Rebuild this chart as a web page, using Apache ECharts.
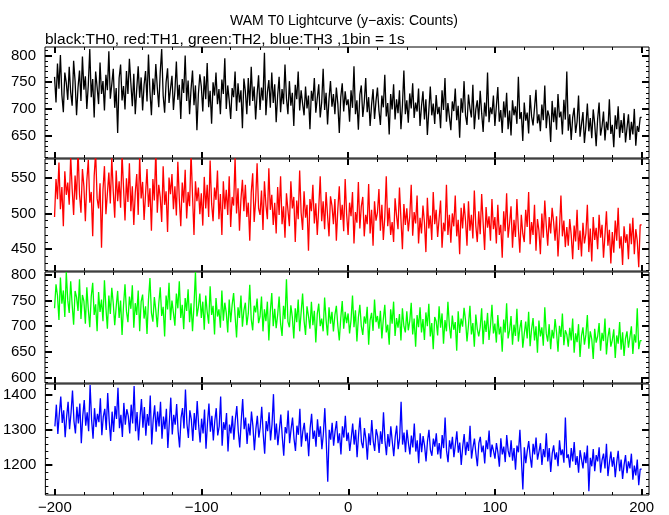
<!DOCTYPE html>
<html><head><meta charset="utf-8">
<script src="https://cdn.jsdelivr.net/npm/echarts@6/dist/echarts.min.js"></script>
<style>html,body{margin:0;padding:0;background:#fff}#c{width:669px;height:515px}</style>
</head><body><div id="c"></div>
<script>
// time of first bin (s), 1 bin = 1 s
const tStart = -200;
const xTickLabels = [-200, -100, 0, 100, 200];

const th0 = [
760,712,785,738,801,726,694,768,749,717,
779,731,706,790,752,688,740,772,715,798,
736,761,700,745,812,722,756,684,770,741,
709,787,728,752,697,764,735,808,719,746,
775,702,739,655,758,783,716,743,699,771,
728,794,748,705,766,690,737,780,721,759,
697,745,771,714,802,733,688,757,726,784,
740,703,768,812,725,693,750,776,711,738,
762,698,734,789,717,745,681,756,730,800,
715,753,690,737,772,707,744,660,728,765,
742,695,761,718,786,703,734,672,750,725,
768,709,737,690,755,728,795,700,744,716,
681,739,722,770,696,748,712,735,664,757,
733,690,758,706,779,715,742,680,727,763,
698,740,716,805,688,731,754,702,768,711,
746,675,725,760,694,737,709,783,720,690,
752,706,730,668,745,718,770,697,735,710,
688,742,701,725,662,734,715,758,693,720,
746,684,712,775,698,730,671,719,752,704,
728,690,740,710,655,722,748,695,733,707,
718,676,735,702,780,690,716,661,727,744,
685,712,758,694,722,668,708,737,681,715,
740,697,670,725,703,764,686,711,652,728,
699,746,680,718,692,735,662,706,772,690,
716,674,729,701,748,683,712,695,738,668,
705,733,680,718,651,697,742,688,710,672,
726,690,704,664,735,698,758,676,711,685,
660,714,696,738,679,706,646,720,693,752,
688,670,727,701,684,745,662,699,716,680,
734,692,657,712,686,768,675,703,690,725,
668,705,741,676,698,655,714,684,730,662,
697,650,716,688,705,672,760,681,694,640,
712,678,693,654,726,686,669,702,736,673,
690,658,708,679,744,664,697,686,638,715,
675,703,661,728,684,695,652,717,680,770,
659,690,642,684,702,655,676,725,648,671,
694,636,668,710,658,683,645,699,672,630,
681,712,650,667,695,641,676,660,718,653,
670,628,688,662,705,646,679,655,692,637,
664,690,642,676,652,700,631,668,657,684];

const th1 = [
495,548,520,571,506,537,482,559,526,543,
512,580,534,498,553,519,590,527,501,562,
538,489,546,575,515,530,468,552,585,521,
507,542,452,533,566,499,528,557,514,578,
531,494,560,517,545,508,583,536,490,549,
516,570,503,538,484,529,555,498,580,521,
544,491,527,562,509,535,476,548,518,590,
501,540,523,488,566,512,531,474,550,527,
555,506,538,497,572,520,482,543,515,561,
493,530,510,585,525,470,545,517,536,499,
528,483,551,507,540,495,574,514,489,536,
519,560,492,527,470,545,506,533,498,552,
481,523,511,578,500,535,476,520,547,503,
540,495,515,462,529,556,488,518,570,507,
498,532,477,545,512,492,563,505,526,484,
515,472,537,498,552,485,510,466,528,505,
482,545,507,523,460,518,492,560,501,477,
531,494,512,448,520,503,540,486,514,470,
508,552,489,517,478,530,497,468,524,511,
485,520,462,506,538,491,512,475,548,499,
470,515,496,530,458,502,487,544,479,510,
523,468,498,485,541,472,505,455,517,490,
501,534,476,512,463,495,552,482,508,470,
488,460,521,497,478,536,492,450,513,484,
507,475,496,540,469,502,486,525,458,494,
472,511,488,446,522,479,497,463,530,485,
505,467,493,518,452,487,475,540,470,498,
459,500,482,525,468,491,443,508,479,514,
490,455,517,476,498,465,532,483,460,503,
471,527,487,449,509,480,496,462,520,478,
495,458,512,470,484,438,503,475,528,466,
486,510,452,491,467,520,479,445,498,472,
460,505,481,530,457,488,470,512,448,492,
476,443,500,466,518,483,455,495,472,508,
488,462,496,440,479,525,468,490,453,481,
455,492,470,436,483,461,505,449,476,440,
487,458,472,512,446,479,433,495,463,480,
450,498,466,484,438,470,503,455,477,430,
474,445,490,462,508,451,468,428,482,459,
471,436,486,457,494,443,478,462,425,484];

const th2 = [
735,782,760,712,795,744,770,718,806,751,
726,788,742,703,769,757,730,792,714,761,
749,705,776,733,698,758,785,722,743,690,
767,728,752,710,790,736,695,760,724,775,
745,702,738,769,716,750,683,741,782,729,
708,758,734,780,697,745,722,770,690,748,
762,715,739,685,752,794,726,709,757,731,
698,744,776,720,738,680,760,733,785,712,
750,726,701,764,735,788,716,742,694,755,
730,772,708,745,690,740,806,719,737,764,
716,748,693,760,728,705,778,722,740,684,
755,719,733,697,770,711,746,726,688,752,
708,742,765,721,678,737,716,760,699,731,
746,702,725,781,714,692,740,727,754,706,
719,758,690,733,710,748,672,729,765,700,
734,696,722,758,705,681,740,714,792,709,
698,741,718,676,735,708,752,690,727,764,
711,683,739,720,695,748,702,730,668,724,
744,700,715,690,756,712,682,737,705,728,
690,722,740,701,672,716,749,695,728,706,
725,686,712,760,698,731,670,717,742,700,
683,719,705,738,664,712,726,691,752,708,
720,695,730,676,714,742,688,703,664,733,
705,748,681,716,697,724,672,735,700,688,
729,692,710,746,684,715,660,722,698,737,
688,714,673,727,700,744,680,706,655,718,
710,682,739,697,725,666,712,690,748,701,
676,721,693,708,652,729,687,715,699,736,
712,670,702,740,684,706,660,723,695,680,
698,735,665,711,689,726,673,701,742,686,
705,668,722,684,699,650,713,688,745,676,
692,720,664,703,681,734,670,696,712,658,
685,709,676,728,661,694,716,672,700,648,
711,680,698,662,737,686,670,704,655,693,
676,714,688,650,701,679,725,663,692,684,
660,697,672,715,648,686,669,704,640,681,
698,664,683,722,656,690,675,636,695,668,
680,706,652,687,671,715,645,678,697,660,
673,694,638,682,666,708,654,688,642,676,
690,658,679,700,646,684,668,735,655,672];

const th3 = [
1310,1372,1288,1345,1395,1320,1356,1279,1338,1380,
1302,1349,1412,1325,1290,1366,1318,1375,1262,1340,
1385,1312,1350,1296,1428,1330,1275,1362,1308,1346,
1322,1390,1285,1338,1360,1300,1405,1326,1268,1352,
1294,1368,1331,1420,1305,1343,1280,1377,1315,1359,
1340,1290,1372,1318,1425,1296,1351,1270,1334,1388,
1306,1365,1283,1345,1312,1398,1258,1329,1370,1295,
1352,1310,1380,1275,1338,1302,1360,1248,1321,1392,
1287,1343,1315,1374,1296,1250,1335,1362,1304,1415,
1318,1277,1356,1330,1268,1348,1300,1382,1312,1264,
1332,1290,1358,1246,1318,1375,1295,1340,1270,1326,
1362,1284,1310,1395,1255,1322,1300,1348,1238,1315,
1290,1340,1272,1330,1368,1296,1250,1325,1388,1302,
1335,1260,1318,1284,1352,1310,1242,1302,1340,1278,
1308,1366,1288,1232,1325,1296,1350,1270,1315,1402,
1272,1318,1256,1300,1344,1280,1226,1308,1290,1355,
1262,1302,1335,1275,1240,1312,1286,1360,1252,1296,
1320,1268,1292,1225,1305,1346,1274,1298,1252,1330,
1280,1310,1245,1288,1362,1266,1152,1300,1272,1320,
1255,1296,1325,1262,1290,1230,1310,1278,1340,1268,
1292,1240,1276,1318,1258,1300,1222,1286,1335,1265,
1248,1305,1274,1215,1290,1256,1328,1268,1240,1302,
1282,1234,1296,1260,1350,1270,1228,1288,1252,1310,
1266,1225,1280,1312,1245,1276,1380,1258,1292,1236,
1300,1262,1230,1284,1250,1318,1238,1270,1205,1290,
1236,1282,1255,1210,1268,1300,1242,1226,1275,1252,
1290,1230,1262,1218,1285,1248,1335,1240,1208,1270,
1245,1280,1222,1258,1296,1235,1264,1200,1252,1288,
1228,1266,1240,1312,1218,1250,1275,1232,1196,1262,
1280,1236,1255,1204,1270,1245,1298,1222,1258,1240,
1218,1262,1235,1195,1276,1230,1252,1208,1285,1240,
1222,1270,1212,1248,1186,1255,1236,1300,1216,1130,
1250,1205,1240,1268,1224,1192,1260,1230,1278,1215,
1238,1262,1200,1245,1222,1290,1210,1248,1180,1232,
1256,1215,1236,1196,1270,1228,1244,1206,1335,1220,
1230,1192,1248,1210,1265,1200,1225,1178,1242,1216,
1190,1236,1205,1255,1125,1220,1196,1245,1182,1228,
1210,1250,1178,1214,1232,1190,1260,1168,1206,1238,
1195,1222,1165,1208,1240,1182,1215,1160,1200,1228,
1176,1210,1190,1232,1158,1198,1170,1215,1142,1188];

// y-axis tick labels per panel
const yTicks0 = [650, 700, 750, 800];
const yTicks1 = [450, 500, 550];
const yTicks2 = [600, 650, 700, 750, 800];
const yTicks3 = [1200, 1300, 1400];

const titleText = 'WAM T0 Lightcurve (y\u2212axis: Counts)';
const subText = 'black:TH0, red:TH1, green:TH2, blue:TH3 ,1bin = 1s';

const panels = [
  {vals: th0, color: '#000000', ticks: yTicks0, minorStep: 10, min: 608, max: 816, top: 47, h: 111},
  {vals: th1, color: '#ff0000', ticks: yTicks1, minorStep: 10, min: 419.6, max: 576, top: 159, h: 112},
  {vals: th2, color: '#00ff00', ticks: yTicks2, minorStep: 10, min: 589, max: 806, top: 272, h: 111},
  {vals: th3, color: '#0000ff', ticks: yTicks3, minorStep: 20, min: 1114, max: 1431, top: 384, h: 112}
];

const XMIN = -206.5, XMAX = 205;
const xMinor = [];
for (let v = -200; v <= 200; v += 20) xMinor.push(v);

const FONT = 'Liberation Sans, Arial, Helvetica, sans-serif';
const grids = [], xAxes = [], yAxes = [], series = [];
const noLine = {show: false, onZero: false};

panels.forEach((p, i) => {
  grids.push({left: 45, right: 20, top: p.top, height: p.h, show: true,
    borderColor: '#000', borderWidth: 1, backgroundColor: 'transparent'});
  const xBase = {type: 'value', gridIndex: i, min: XMIN, max: XMAX, splitLine: {show: false}, axisLine: noLine};
  ['bottom', 'top'].forEach(pos => {
    xAxes.push(Object.assign({}, xBase, {position: pos,
      axisTick: {show: true, inside: true, length: 6, lineStyle: {color: '#000', width: 2}, customValues: xTickLabels},
      axisLabel: {show: (i === 3 && pos === 'bottom'), customValues: xTickLabels, fontFamily: FONT, fontSize: 15, color: '#000', margin: 5,
        formatter: v => String(v).replace('-', '\u2212')}}));
    xAxes.push(Object.assign({}, xBase, {position: pos,
      axisTick: {show: true, inside: true, length: 3, lineStyle: {color: '#000', width: 1}, customValues: xMinor},
      axisLabel: {show: false}}));
  });
  const yMinor = [];
  for (let v = Math.ceil(p.min / p.minorStep) * p.minorStep; v <= p.max; v += p.minorStep) yMinor.push(v);
  const yBase = {type: 'value', gridIndex: i, min: p.min, max: p.max, splitLine: {show: false}, axisLine: noLine};
  ['left', 'right'].forEach(pos => {
    yAxes.push(Object.assign({}, yBase, {position: pos,
      axisTick: {show: true, inside: true, length: 7, lineStyle: {color: '#000', width: 2}, customValues: p.ticks},
      axisLabel: {show: pos === 'left', customValues: p.ticks, fontFamily: FONT, fontSize: 15, color: '#000', margin: 9,
        formatter: v => String(v)}}));
    yAxes.push(Object.assign({}, yBase, {position: pos,
      axisTick: {show: true, inside: true, length: 3, lineStyle: {color: '#000', width: 1}, customValues: yMinor},
      axisLabel: {show: false}}));
  });
  const data = p.vals.map((v, k) => [tStart + k, v]);
  data.push([tStart + p.vals.length, p.vals[p.vals.length - 1]]);
  series.push({type: 'line', step: 'end', xAxisIndex: i * 4, yAxisIndex: i * 4, data: data,
    showSymbol: false, symbol: 'none', clip: true, lineStyle: {color: p.color, width: 1.3}, silent: true});
});

const chart = echarts.init(document.getElementById('c'), null, {renderer: 'canvas'});
chart.setOption({
  animation: false,
  backgroundColor: '#fff',
  title: [
    {text: titleText, left: 339, top: 9, textAlign: 'center', textStyle: {fontFamily: FONT, fontSize: 14, fontWeight: 'normal', color: '#000'}},
    {text: subText, left: 40, top: 27, textStyle: {fontFamily: FONT, fontSize: 15.5, fontWeight: 'normal', color: '#000'}}
  ],
  grid: grids, xAxis: xAxes, yAxis: yAxes, series: series
});
</script></body></html>
